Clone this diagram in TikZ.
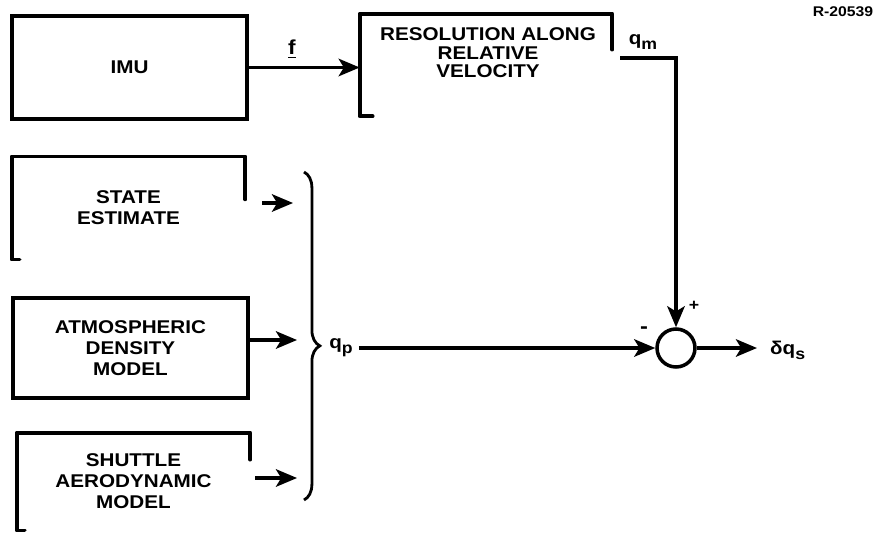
\documentclass[tikz,border=0pt]{standalone}
\usepackage{fontspec}
\setmainfont{Liberation Sans}[FakeStretch=1.12]
\usepackage{tikz}
\usetikzlibrary{arrows.meta, positioning, decorations.pathreplacing}
\newcommand{\qsub}[1]{q\raisebox{-0.5ex}{\small #1}}

\begin{document}
\begin{tikzpicture}[x=0.02cm, y=-0.02cm, font=\bfseries\fontsize{10.5}{12}\selectfont]
\tikzstyle{block}=[rectangle, minimum width=4.7cm, minimum height=2.05cm,
  inner sep=0pt, align=center]
\tikzstyle{edge}=[line width=2.1pt, line cap=round, line join=round]
\tikzstyle{arrow}=[-{Stealth[length=12pt,width=10pt,inset=3pt]}, line width=1.8pt]

\useasboundingbox (0,0) rectangle (878,534);

% blocks (the scan only shows part of some outlines)
\node (imu) [block, draw, line width=2.1pt] at (129.5,67.5) {IMU};
\node (res) [block, minimum width=5.04cm, minimum height=2.04cm] at (486,65) {};
\node (restxt) [align=center, font=\bfseries\fontsize{10.5}{10.5}\selectfont] at (488,53)
  {RESOLUTION ALONG\\RELATIVE\\VELOCITY};
\node (state) [block, minimum width=4.66cm] at (128.5,208) {STATE\\ESTIMATE};
\node (atmos) [block, draw, line width=2.1pt, minimum height=2cm] at (130.5,348)
  {ATMOSPHERIC\\DENSITY\\MODEL};
\node (shuttle) [block, minimum width=4.66cm, minimum height=1.94cm] at (133.5,481.5)
  {SHUTTLE\\AERODYNAMIC\\MODEL};

\draw [edge] ([yshift=-0.72cm]res.north east) -- (res.north east) -- (res.north west)
  -- (res.south west) -- ++(13,0);
\draw [edge] ([yshift=-0.86cm]state.north east) -- (state.north east) -- (state.north west)
  -- (state.south west) -- ++(8,0);
\draw [edge] ([yshift=-0.54cm]shuttle.north east) -- (shuttle.north east) -- (shuttle.north west)
  -- (shuttle.south west) -- ++(8,0);

% brace collecting the predicted inputs
\coordinate (brtop) at (304,172);
\coordinate (brbot) at (304,500);
\draw [line width=1.6pt, decorate, decoration={brace, amplitude=9pt, aspect=0.53}]
  (brtop) -- (brbot);
\coordinate (in1) at (293,203);
\coordinate (in2) at (297,340);
\coordinate (in3) at (297,478);

\draw [arrow] ([xshift=0.34cm]state.east |- in1) -- (in1);
\draw [arrow] (atmos.east |- in2) -- (in2);
\draw [arrow] ([xshift=0.1cm]shuttle.east |- in3) -- (in3);

% labels and summing junction
\node (f) [font=\bfseries\fontsize{11.5}{12}\selectfont] at (292,49) {\underline{f}};
\node (qm) at (643,42) {\qsub{m}};
\node (qp) at (341,348) {\qsub{p}};
\node (sum) [circle, draw, line width=2pt, minimum size=0.76cm, inner sep=0pt] at (676,348) {};
\node (plus) [font=\bfseries\small] at (694,306) {+};
\node (minus) [font=\bfseries\large] at (644,330) {-};
\node (dq) [anchor=west] at (764,350) {δ\qsub{s}};
\node (rnum) [font=\bfseries\footnotesize] at (843,12) {R-20539};

\coordinate (resout) at (620,58);

\draw [arrow] (imu.east) -- (imu.east -| res.west);
\draw [arrow] (qp.east |- sum) -- (sum);
\draw [arrow] (resout) -| (sum);
\draw [arrow, shorten >=4pt] (sum.east) -- (sum.east -| dq.west);
\end{tikzpicture}
\end{document}
